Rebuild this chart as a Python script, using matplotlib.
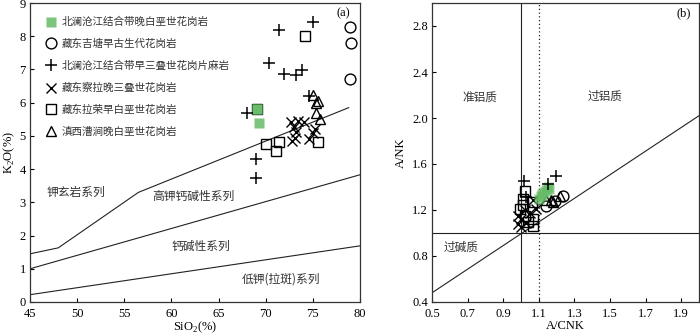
import matplotlib
matplotlib.use("Agg")
import matplotlib.pyplot as plt
from matplotlib.lines import Line2D
import numpy as np

# ---- (a) SiO2 vs K2O data ----
green_sio2 = [69.1, 69.1, 69.3]
green_k2o = [5.80, 5.80, 5.40]

jitang_sio2 = [78.9, 79.0, 78.9]
jitang_k2o = [8.27, 7.81, 6.71]

gneiss_sio2 = [71.4, 75.0, 70.35, 71.95, 73.2, 73.9, 74.6, 68.05, 68.95, 68.95]
gneiss_k2o = [8.19, 8.44, 7.18, 6.86, 6.83, 6.98, 6.20, 5.68, 4.29, 3.74]

chala_sio2 = [72.66, 73.47, 74.08, 73.0, 73.19, 73.12, 72.77, 74.61, 74.97, 75.25]
chala_k2o = [5.42, 5.45, 5.43, 5.28, 5.11, 4.94, 4.84, 4.91, 5.10, 5.22]

larong_sio2 = [74.15, 69.1, 70.07, 71.42, 71.06, 75.5]
larong_k2o = [8.02, 5.80, 4.76, 4.81, 4.56, 4.82]

caojian_sio2 = [75.04, 75.3, 75.5, 75.3, 75.74]
caojian_k2o = [6.22, 6.00, 6.05, 5.70, 5.50]

# boundary lines (Peccerillo & Taylor)
sho_x = [45, 48, 56.5, 78.8]
sho_y = [1.45, 1.63, 3.30, 5.85]
hk_x = [45, 80]
hk_y = [1.00, 3.83]
ca_x = [45, 80]
ca_y = [0.22, 1.69]

# ---- (b) A/CNK vs A/NK data ----
g_acnk = [1.10, 1.12, 1.14, 1.15, 1.13, 1.16, 1.11]
g_anK = [1.30, 1.34, 1.37, 1.40, 1.36, 1.38, 1.32]

j_acnk = [1.235, 1.142, 1.19]
j_anK = [1.322, 1.236, 1.28]

gn_acnk = [1.017, 1.198, 1.151, 1.03]
gn_anK = [1.452, 1.495, 1.423, 1.31]

ch_acnk = [0.983, 0.983, 1.00, 1.03, 1.049, 1.086, 1.07, 1.00, 1.02]
ch_anK = [1.15, 1.078, 1.05, 1.09, 1.178, 1.21, 1.29, 1.12, 1.20]

lr_acnk = [1.02, 1.011, 0.993, 1.02, 1.067, 1.067, 1.011, 1.06, 1.04]
lr_anK = [1.365, 1.294, 1.207, 1.15, 1.12, 1.063, 1.24, 1.27, 1.10]

cj_acnk = [1.217, 1.17, 1.14, 1.18]
cj_anK = [1.32, 1.29, 1.29, 1.27]

legend_labels = [
    "北澜沧江结合带晚白垩世花岗岩",
    "藏东吉塘早古生代花岗岩",
    "北澜沧江结合带早三叠世花岗片麻岩",
    "藏东察拉晚三叠世花岗岩",
    "藏东拉荣早白垩世花岗岩",
    "滇西漕涧晚白垩世花岗岩",
]

plt.rcParams.update({
    "font.family": ["Liberation Serif", "Noto Sans CJK SC"],
    "font.size": 9,
    "mathtext.fontset": "custom",
    "mathtext.rm": "Liberation Serif",
    "xtick.direction": "in",
    "ytick.direction": "in",
    "xtick.major.size": 3,
    "ytick.major.size": 3,
    "xtick.major.pad": 4,
    "ytick.major.pad": 3,
    "axes.linewidth": 0.9,
    "axes.edgecolor": "#333333",
})
cjk = ["Noto Sans CJK SC", "DejaVu Sans"]
green = "#66bb66"
ms = 7.8
tc = "#333333"

fig = plt.figure(figsize=(7.0, 3.34), dpi=100)
axa = fig.add_axes([30 / 700, 32 / 334, 330 / 700, 299 / 334])
axb = fig.add_axes([432 / 700, 32 / 334, 267 / 700, 299 / 334])

# ---- panel (a) ----
for xs, ys in [(sho_x, sho_y), (hk_x, hk_y), (ca_x, ca_y)]:
    axa.plot(xs, ys, color="#222222", lw=0.8)

axa.plot(larong_sio2, larong_k2o, ls="none", marker="s", ms=ms, mfc="none", mec="black", mew=1.0)
axa.plot(green_sio2, green_k2o, ls="none", marker="s", ms=ms, mfc=green, mec="none", alpha=0.85)
axa.plot(jitang_sio2, jitang_k2o, ls="none", marker="o", ms=ms, mfc="none", mec="black", mew=1.0)
axa.plot(gneiss_sio2, gneiss_k2o, ls="none", marker="+", ms=ms + 1, mec="black", mew=1.1)
axa.plot(chala_sio2, chala_k2o, ls="none", marker="x", ms=ms - 1, mec="black", mew=1.0)
axa.plot(caojian_sio2, caojian_k2o, ls="none", marker="^", ms=ms, mfc="none", mec="black", mew=1.0)

axa.text(49.9, 3.3, "钾玄岩系列", family=cjk, fontsize=8.5, ha="center", va="center", color=tc)
axa.text(62.3, 3.17, "高钾钙碱性系列", family=cjk, fontsize=8.5, ha="center", va="center", color=tc)
axa.text(63.1, 1.66, "钙碱性系列", family=cjk, fontsize=8.5, ha="center", va="center", color=tc)
axa.text(71.6, 0.69, "低钾(拉斑)系列", family=cjk, fontsize=8.5, ha="center", va="center", color=tc)
axa.text(0.97, 0.985, "(a)", transform=axa.transAxes, ha="right", va="top", fontsize=9)

axa.set_xlim(45, 80)
axa.set_ylim(0, 9)
axa.set_xticks(np.arange(45, 81, 5))
axa.set_yticks(np.arange(0, 10, 1))
axa.set_xlabel(r"SiO$_\mathregular{2}$(%)", labelpad=0)
axa.set_ylabel(r"K$_\mathregular{2}$O(%)", labelpad=2)

handles = [
    Line2D([], [], ls="none", marker="s", ms=ms, mfc=green, mec="none", alpha=0.85),
    Line2D([], [], ls="none", marker="o", ms=ms, mfc="none", mec="black", mew=1.0),
    Line2D([], [], ls="none", marker="+", ms=ms + 1, mec="black", mew=1.1),
    Line2D([], [], ls="none", marker="x", ms=ms - 1, mec="black", mew=1.0),
    Line2D([], [], ls="none", marker="s", ms=ms, mfc="none", mec="black", mew=1.0),
    Line2D([], [], ls="none", marker="^", ms=ms, mfc="none", mec="black", mew=1.0),
]
axa.legend(handles, legend_labels, loc="upper left", bbox_to_anchor=(0.025, 0.975),
           frameon=False, prop={"family": cjk, "size": 7.6}, labelspacing=1.1,
           handlelength=1.2, handletextpad=0.45, borderaxespad=0.2, labelcolor=tc)

# ---- panel (b) ----
axb.axvline(1.0, color="#222222", lw=0.8)
axb.axvline(1.1, color="#222222", lw=0.9, ls=(0, (1, 2)))
axb.axhline(1.0, color="#222222", lw=0.8)
axb.plot([0.5, 2.0], [0.48, 2.02], color="#222222", lw=0.8)

axb.plot(lr_acnk, lr_anK, ls="none", marker="s", ms=ms, mfc="none", mec="black", mew=1.0)
axb.plot(ch_acnk, ch_anK, ls="none", marker="x", ms=ms - 1, mec="black", mew=1.0)
axb.plot(j_acnk, j_anK, ls="none", marker="o", ms=ms, mfc="none", mec="black", mew=1.0)
axb.plot(cj_acnk, cj_anK, ls="none", marker="^", ms=ms, mfc="none", mec="black", mew=1.0)
axb.plot(g_acnk, g_anK, ls="none", marker="s", ms=ms, mfc=green, mec="none", alpha=0.7)
axb.plot(gn_acnk, gn_anK, ls="none", marker="+", ms=ms + 1, mec="black", mew=1.1)

axb.text(0.77, 2.17, "准铝质", family=cjk, fontsize=8.4, ha="center", va="center", color=tc)
axb.text(1.47, 2.19, "过铝质", family=cjk, fontsize=8.4, ha="center", va="center", color=tc)
axb.text(0.665, 0.875, "过碱质", family=cjk, fontsize=8.4, ha="center", va="center", color=tc)
axb.text(0.97, 0.985, "(b)", transform=axb.transAxes, ha="right", va="top", fontsize=9)

axb.set_xlim(0.5, 2.0)
axb.set_ylim(0.4, 3.0)
axb.set_xticks(np.arange(0.5, 2.0, 0.2))
axb.set_yticks(np.arange(0.4, 2.9, 0.4))
axb.xaxis.set_major_formatter(matplotlib.ticker.FormatStrFormatter("%.1f"))
axb.yaxis.set_major_formatter(matplotlib.ticker.FormatStrFormatter("%.1f"))
axb.set_xlabel("A/CNK", labelpad=0)
axb.set_ylabel("A/NK", labelpad=4)

fig.savefig("out.png", dpi=100)
